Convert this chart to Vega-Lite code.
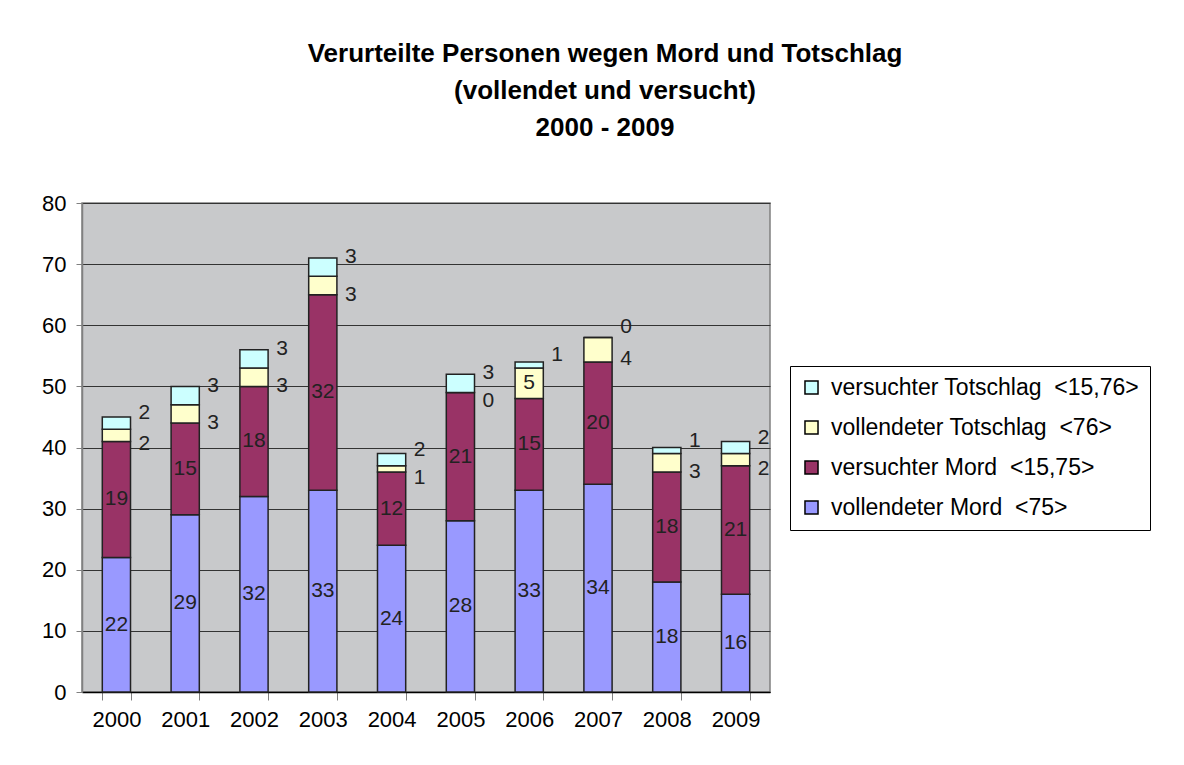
{
  "$schema": "https://vega.github.io/schema/vega-lite/v6.json",
  "autosize": "none",
  "width": 688,
  "height": 489,
  "padding": {"left": 82, "top": 203, "right": 414, "bottom": 73},
  "background": "white",
  "title": {
    "text": ["Verurteilte Personen wegen Mord und Totschlag", "(vollendet und versucht)", "2000 - 2009"],
    "font": "Liberation Sans",
    "fontSize": 26,
    "fontWeight": "bold",
    "lineHeight": 37,
    "anchor": "middle",
    "dx": 179,
    "offset": 51,
    "color": "#000000"
  },
  "config": {
    "font": "Liberation Sans",
    "view": {"fill": "#C8C9CB", "stroke": "#808080", "strokeWidth": 1.5},
    "legend": {
      "orient": "none",
      "legendX": 708,
      "legendY": 163,
      "strokeColor": "#000000",
      "padding": 10,
      "labelFontSize": 23,
      "labelColor": "#000000",
      "labelLimit": 400,
      "symbolType": "square",
      "symbolSize": 170,
      "symbolStrokeColor": "#000000",
      "symbolStrokeWidth": 1.5,
      "rowPadding": 16,
      "labelOffset": 8
    }
  },
  "data": {
    "values": [
      {"year": "2000", "series": "vollendeter Mord\u00a0 <75>", "value": 22},
      {"year": "2000", "series": "versuchter Mord\u00a0 <15,75>", "value": 19},
      {"year": "2000", "series": "vollendeter Totschlag\u00a0 <76>", "value": 2},
      {"year": "2000", "series": "versuchter Totschlag\u00a0 <15,76>", "value": 2},
      {"year": "2001", "series": "vollendeter Mord\u00a0 <75>", "value": 29},
      {"year": "2001", "series": "versuchter Mord\u00a0 <15,75>", "value": 15},
      {"year": "2001", "series": "vollendeter Totschlag\u00a0 <76>", "value": 3},
      {"year": "2001", "series": "versuchter Totschlag\u00a0 <15,76>", "value": 3},
      {"year": "2002", "series": "vollendeter Mord\u00a0 <75>", "value": 32},
      {"year": "2002", "series": "versuchter Mord\u00a0 <15,75>", "value": 18},
      {"year": "2002", "series": "vollendeter Totschlag\u00a0 <76>", "value": 3},
      {"year": "2002", "series": "versuchter Totschlag\u00a0 <15,76>", "value": 3},
      {"year": "2003", "series": "vollendeter Mord\u00a0 <75>", "value": 33},
      {"year": "2003", "series": "versuchter Mord\u00a0 <15,75>", "value": 32},
      {"year": "2003", "series": "vollendeter Totschlag\u00a0 <76>", "value": 3},
      {"year": "2003", "series": "versuchter Totschlag\u00a0 <15,76>", "value": 3},
      {"year": "2004", "series": "vollendeter Mord\u00a0 <75>", "value": 24},
      {"year": "2004", "series": "versuchter Mord\u00a0 <15,75>", "value": 12},
      {"year": "2004", "series": "vollendeter Totschlag\u00a0 <76>", "value": 1},
      {"year": "2004", "series": "versuchter Totschlag\u00a0 <15,76>", "value": 2},
      {"year": "2005", "series": "vollendeter Mord\u00a0 <75>", "value": 28},
      {"year": "2005", "series": "versuchter Mord\u00a0 <15,75>", "value": 21},
      {"year": "2005", "series": "vollendeter Totschlag\u00a0 <76>", "value": 0},
      {"year": "2005", "series": "versuchter Totschlag\u00a0 <15,76>", "value": 3},
      {"year": "2006", "series": "vollendeter Mord\u00a0 <75>", "value": 33},
      {"year": "2006", "series": "versuchter Mord\u00a0 <15,75>", "value": 15},
      {"year": "2006", "series": "vollendeter Totschlag\u00a0 <76>", "value": 5},
      {"year": "2006", "series": "versuchter Totschlag\u00a0 <15,76>", "value": 1},
      {"year": "2007", "series": "vollendeter Mord\u00a0 <75>", "value": 34},
      {"year": "2007", "series": "versuchter Mord\u00a0 <15,75>", "value": 20},
      {"year": "2007", "series": "vollendeter Totschlag\u00a0 <76>", "value": 4},
      {"year": "2007", "series": "versuchter Totschlag\u00a0 <15,76>", "value": 0},
      {"year": "2008", "series": "vollendeter Mord\u00a0 <75>", "value": 18},
      {"year": "2008", "series": "versuchter Mord\u00a0 <15,75>", "value": 18},
      {"year": "2008", "series": "vollendeter Totschlag\u00a0 <76>", "value": 3},
      {"year": "2008", "series": "versuchter Totschlag\u00a0 <15,76>", "value": 1},
      {"year": "2009", "series": "vollendeter Mord\u00a0 <75>", "value": 16},
      {"year": "2009", "series": "versuchter Mord\u00a0 <15,75>", "value": 21},
      {"year": "2009", "series": "vollendeter Totschlag\u00a0 <76>", "value": 2},
      {"year": "2009", "series": "versuchter Totschlag\u00a0 <15,76>", "value": 2}
    ]
  },
  "transform": [
    {"calculate": "indexof(['vollendeter Mord\u00a0 <75>','versuchter Mord\u00a0 <15,75>','vollendeter Totschlag\u00a0 <76>','versuchter Totschlag\u00a0 <15,76>'], datum.series)", "as": "o"},
    {"stack": "value", "groupby": ["year"], "sort": [{"field": "o", "order": "ascending"}], "as": ["y0", "y1"]},
    {"calculate": "(datum.y0 + datum.y1) / 2", "as": "mid"}
  ],
  "encoding": {
    "x": {
      "field": "year",
      "type": "ordinal",
      "title": null,
      "scale": {"paddingInner": 0.59, "paddingOuter": 0.295},
      "axis": {
        "labelAngle": 0,
        "labelFontSize": 22,
        "labelColor": "#000000",
        "labelPadding": 9,
        "tickBand": "extent",
        "tickSize": 8,
        "tickColor": "#808080",
        "domainColor": "#000000",
        "domainWidth": 1.5
      }
    }
  },
  "layer": [
    {
      "mark": {"type": "bar", "stroke": "#222222", "strokeWidth": 1.5},
      "encoding": {
        "y": {
          "field": "y0",
          "type": "quantitative",
          "title": null,
          "scale": {"domain": [0, 80]},
          "axis": {
            "values": [0, 10, 20, 30, 40, 50, 60, 70, 80],
            "labelFontSize": 22,
            "labelColor": "#000000",
            "labelPadding": 10,
            "tickSize": 6,
            "tickColor": "#808080",
            "domainColor": "#808080",
            "domainWidth": 1.5,
            "gridColor": "#333333",
            "gridWidth": 1
          }
        },
        "y2": {"field": "y1"},
        "color": {
          "field": "series",
          "type": "nominal",
          "title": null,
          "scale": {
            "domain": ["versuchter Totschlag\u00a0 <15,76>", "vollendeter Totschlag\u00a0 <76>", "versuchter Mord\u00a0 <15,75>", "vollendeter Mord\u00a0 <75>"],
            "range": ["#CCFFFF", "#FFFFCC", "#993366", "#9999FF"]
          }
        }
      }
    },
    {
      "transform": [{"filter": "datum.value >= 5"}],
      "mark": {"type": "text", "fontSize": 21, "color": "#222222", "align": "center", "baseline": "middle"},
      "encoding": {
        "y": {"field": "mid", "type": "quantitative"},
        "text": {"field": "value", "type": "quantitative"}
      }
    },
    {
      "transform": [{"filter": "datum.value < 5 && datum.o == 3"}],
      "mark": {"type": "text", "fontSize": 21, "color": "#222222", "align": "center", "baseline": "middle", "dx": 28, "dy": -10},
      "encoding": {
        "y": {"field": "mid", "type": "quantitative"},
        "text": {"field": "value", "type": "quantitative"}
      }
    },
    {
      "transform": [{"filter": "datum.value < 5 && datum.o == 2"}],
      "mark": {"type": "text", "fontSize": 21, "color": "#222222", "align": "center", "baseline": "middle", "dx": 28, "dy": 9},
      "encoding": {
        "y": {"field": "mid", "type": "quantitative"},
        "text": {"field": "value", "type": "quantitative"}
      }
    }
  ]
}
